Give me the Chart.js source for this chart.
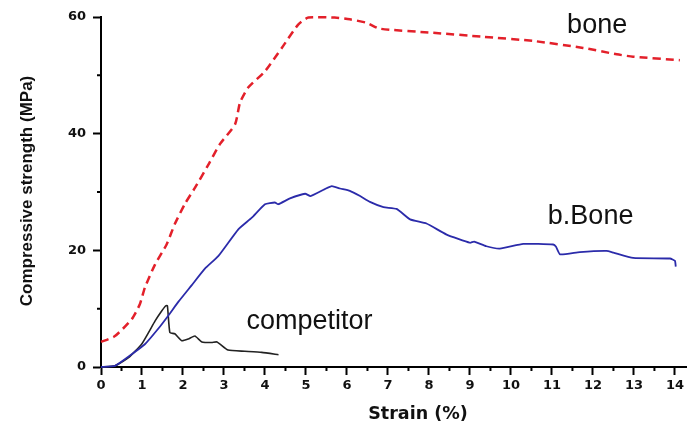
<!DOCTYPE html>
<html>
<head>
<meta charset="utf-8">
<script src="https://cdn.jsdelivr.net/npm/chart.js@4/dist/chart.umd.min.js"></script>
<style>
  html, body { margin: 0; padding: 0; background: #fff; }
  #wrap { width: 695px; height: 423px; }
</style>
</head>
<body>
<div id="wrap"><canvas id="strainChart" width="695" height="423"></canvas></div>
<script>
// values (strain %, stress MPa)
const boneStrain = [0, 0.34, 0.75, 0.95, 1.07, 1.32, 1.6, 1.8, 2.05, 2.29, 2.62, 2.9, 3.27, 3.39, 3.59, 4.0, 4.41, 4.81, 5.06, 5.7, 6.07, 6.48, 6.8, 8.1, 9.33, 10.54, 11.76, 12.58, 12.98, 14.12];
const boneStress = [4.3, 5.3, 8.2, 10.8, 13.6, 17.6, 21, 24.5, 28, 30.7, 34.7, 38.2, 41.6, 45.3, 47.9, 50.7, 54.7, 58.7, 59.9, 59.9, 59.6, 59, 58, 57.3, 56.6, 55.9, 54.7, 53.6, 53.2, 52.6];

const bBoneStrain = [0, 0.34, 0.75, 1.07, 1.4, 1.64, 1.89, 2.21, 2.54, 2.86, 3.35, 3.68, 4.0, 4.24, 4.32, 4.61, 4.98, 5.11, 5.46, 5.63, 5.83, 6.07, 6.32, 6.56, 6.89, 7.21, 7.54, 7.94, 8.43, 9.0, 9.1, 9.4, 9.73, 10.3, 11.03, 11.1, 11.2, 11.68, 12.33, 12.5, 12.98, 13.88, 14.0, 14.02];
const bBoneStress = [0, 0.2, 2.2, 3.9, 6.6, 8.8, 11.2, 14.0, 16.9, 19, 23.6, 25.6, 27.9, 28.2, 27.9, 28.9, 29.7, 29.3, 30.5, 31, 30.6, 30.2, 29.3, 28.3, 27.4, 27.1, 25.3, 24.6, 22.7, 21.3, 21.5, 20.7, 20.3, 21.1, 21, 20.6, 19.3, 19.7, 19.9, 19.6, 18.7, 18.6, 18.2, 17.2];

const competitorStrain = [0, 0.34, 0.67, 0.99, 1.32, 1.48, 1.58, 1.62, 1.68, 1.8, 1.97, 2.13, 2.29, 2.46, 2.7, 2.83, 3.1, 3.51, 3.92, 4.33];
const competitorStress = [0, 0.2, 1.6, 3.9, 7.9, 9.6, 10.5, 10.5, 5.9, 5.7, 4.5, 4.8, 5.3, 4.3, 4.2, 4.3, 2.9, 2.7, 2.5, 2.1];

const seriesNames = ['bone', 'b.Bone', 'competitor'];
const xTitle = 'Strain (%)';
const yTitle = 'Compressive strength (MPa)';

const toPoints = (xs, ys) => xs.map((x, i) => ({ x, y: ys[i] }));

// text labels placed in data units
const curveLabels = [
  { text: seriesNames[0], x: 11.37, y: 57.2 },
  { text: seriesNames[1], x: 10.9, y: 24.6 },
  { text: seriesNames[2], x: 3.55, y: 6.6 }
];

const tickFont = { family: 'DejaVu Sans', weight: 'bold', size: 13 };

const extras = {
  id: 'extras',
  afterDraw(chart) {
    const { ctx, chartArea, scales } = chart;
    const xs = scales.x, ys = scales.y;
    ctx.save();
    ctx.strokeStyle = '#000';
    ctx.lineWidth = 2;

    // minor ticks
    ctx.beginPath();
    xs.ticks.forEach(t => {
      if (Number.isInteger(t.value)) return;
      const px = xs.getPixelForValue(t.value);
      ctx.moveTo(px, chartArea.bottom);
      ctx.lineTo(px, chartArea.bottom + 4);
    });
    ys.ticks.forEach(t => {
      if (t.value % 20 === 0) return;
      const py = ys.getPixelForValue(t.value);
      ctx.moveTo(chartArea.left, py);
      ctx.lineTo(chartArea.left - 4, py);
    });
    ctx.stroke();

    // curve names
    ctx.fillStyle = '#111';
    ctx.font = '27px "Liberation Sans", Arial, sans-serif';
    ctx.textBaseline = 'alphabetic';
    ctx.textAlign = 'left';
    curveLabels.forEach(l => {
      ctx.fillText(l.text, xs.getPixelForValue(l.x), ys.getPixelForValue(l.y));
    });

    // axis titles
    ctx.font = 'bold 17.5px "DejaVu Sans", sans-serif';
    ctx.textAlign = 'center';
    ctx.fillText(xTitle, 418, 419);

    ctx.translate(27, 191);
    ctx.rotate(-Math.PI / 2);
    ctx.font = 'bold 17px "Liberation Sans", Arial, sans-serif';
    ctx.textBaseline = 'middle';
    ctx.fillText(yTitle, 0, 0);
    ctx.restore();
  }
};

const ctx = document.getElementById('strainChart').getContext('2d');
new Chart(ctx, {
  type: 'line',
  data: {
    datasets: [
      {
        label: seriesNames[0],
        data: toPoints(boneStrain, boneStress),
        borderColor: '#e3202a',
        borderWidth: 2.5,
        borderDash: [8, 5],
        tension: 0.2,
        clip: false
      },
      {
        label: seriesNames[1],
        data: toPoints(bBoneStrain, bBoneStress),
        borderColor: '#2b2baa',
        borderWidth: 1.8,
        tension: 0.15,
        clip: false
      },
      {
        label: seriesNames[2],
        data: toPoints(competitorStrain, competitorStress),
        borderColor: '#222',
        borderWidth: 1.6,
        tension: 0.15,
        clip: false
      }
    ]
  },
  options: {
    responsive: false,
    animation: false,
    layout: { padding: { top: 17, right: 9, left: 0, bottom: 0 } },
    elements: { point: { radius: 0 } },
    plugins: { legend: { display: false }, tooltip: { enabled: false } },
    scales: {
      x: {
        type: 'linear',
        min: 0,
        max: 14.27,
        afterFit: s => { s.height = 56; },
        border: { display: true, color: '#000', width: 2 },
        grid: {
          drawOnChartArea: false,
          tickLength: 8,
          tickWidth: 2,
          tickColor: c => Number.isInteger(c.tick.value) ? '#000' : 'rgba(0,0,0,0)'
        },
        ticks: {
          stepSize: 0.5,
          includeBounds: false,
          autoSkip: false,
          maxRotation: 0,
          padding: 3,
          color: '#111',
          font: tickFont,
          callback: v => Number.isInteger(v) ? v : ''
        }
      },
      y: {
        min: 0,
        max: 60,
        afterFit: s => { s.width = 101; },
        border: { display: true, color: '#000', width: 2 },
        grid: {
          drawOnChartArea: false,
          tickLength: 8,
          tickWidth: 2,
          tickColor: c => c.tick.value % 20 === 0 ? '#000' : 'rgba(0,0,0,0)'
        },
        ticks: {
          stepSize: 10,
          padding: 7,
          color: '#111',
          font: tickFont,
          callback: v => v % 20 === 0 ? v : ''
        }
      }
    }
  },
  plugins: [extras]
});
</script>
</body>
</html>
